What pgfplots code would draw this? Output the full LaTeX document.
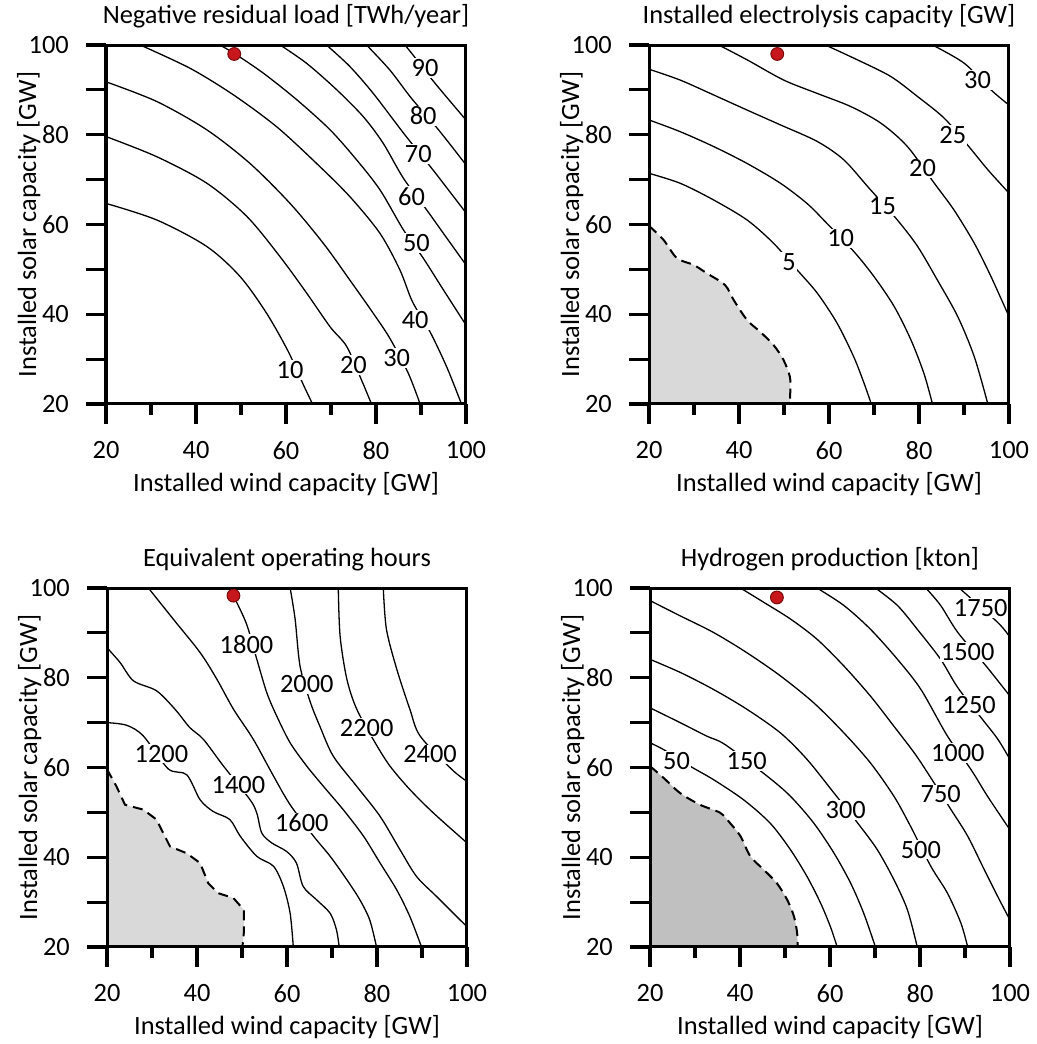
\documentclass[border=0pt]{standalone}
\usepackage{pgfplots}
\pgfplotsset{compat=1.18}
\usepackage{fontspec}
\setmainfont{Carlito}
\definecolor{shadeA}{HTML}{D9D9D9}
\definecolor{shadeB}{HTML}{C0C0C0}
\definecolor{dotred}{HTML}{C8161D}
\definecolor{dotedge}{HTML}{7A0A0A}

\pgfplotsset{
  panel/.style={
    scale only axis, width=180pt, height=179.5pt,
    xmin=20, xmax=100, ymin=20, ymax=100,
    xtick={20,40,...,100}, ytick={20,40,...,100},
    minor ytick={30,50,70,90},
    extra x ticks={30,50,70,90}, extra x tick labels={},
    extra x tick style={major tick length=5.5pt},
    tick pos=left,
    tick align=outside, major tick length=10pt, minor tick length=10pt,
    axis line style={line width=1.5pt},
    tick style={black, line width=1.6pt},
    axis on top,
    xlabel={Installed wind capacity [GW]},
    ylabel={Installed solar capacity [GW]},
    xlabel style={at={(axis description cs:0.5,-0.245)}, anchor=base},
    ylabel style={at={(axis description cs:-0.194,0.5)}, anchor=base},
    title style={at={(axis description cs:0.5,1.061)}, anchor=base, yshift=-6pt},
    xticklabel style={yshift=-4pt},
    yticklabel style={xshift=-4pt},
    /pgf/number format/assume math mode=true,
  },
  cl/.style={black, line width=0.65pt, smooth, no markers},
  bnd/.style={black, line width=1pt, dash pattern=on 5pt off 3pt, smooth, no markers},
  dot/.style={only marks, mark=*, mark size=3.2pt, mark options={fill=dotred, draw=dotedge, line width=0.5pt}},
}
\tikzset{lbl/.style={fill=white, inner sep=0.6pt}}

\begin{document}
\fontsize{13.2}{16}\selectfont
\begin{tikzpicture}
\useasboundingbox (0,0) rectangle (518.5pt,522pt);

% top left
\begin{axis}[panel, at={(53pt,320pt)}, anchor=south west,
  title={Negative residual load [TWh/year]}]
\addplot[cl] coordinates {(20,64.7) (31.3,61.0) (42.4,55.1) (49.8,48.4) (55.7,40.2) (60.5,31.7) (63.9,24.2) (65.9,20)};
\addplot[cl] coordinates {(20,79.6) (31.3,75.1) (42.4,69.2) (51.3,61.8) (58.7,52.8) (64.6,44.7) (69.8,37.2) (73.5,32.8) (76.8,25.3) (79.0,20)};
\addplot[cl] coordinates {(20,91.8) (31.3,87.4) (42.4,81.1) (52.0,73.6) (60.9,64.7) (68.3,55.8) (74.2,47.6) (79.4,40.2) (83.1,34.6) (87.2,26.8) (89.8,20)};
\addplot[cl] coordinates {(27.6,100) (38.7,94.8) (48.3,88.9) (57.9,81.8) (66.8,73.6) (74.2,66.2) (80.9,58.0) (85.3,49.9) (88.1,42.8) (92.0,36.1) (95.7,28.3) (99.0,20)};
\addplot[cl] coordinates {(45.3,100) (48.7,98.0) (55.0,93.7) (62.4,87.8) (69.8,81.1) (75.7,74.4) (80.9,67.7) (86.1,58.8) (90.5,52.5) (95.0,45.4) (100,37.6)};
\addplot[cl] coordinates {(58.7,100) (64.6,95.9) (71.3,90.0) (77.2,84.0) (81.6,78.1) (86.1,70.3) (91.3,63.2) (95.0,58.0) (100,51.0)};
\addplot[cl] coordinates {(69.0,100) (74.2,95.2) (79.4,89.2) (86.4,80.0) (92.4,72.5) (96.1,67.7) (100,62.6)};
\addplot[cl] coordinates {(77.9,100) (83.1,94.4) (87.9,88.1) (93.9,81.1) (100,73.3)};
\addplot[cl] coordinates {(86.4,100) (87.9,98.2) (93.1,91.5) (100,83.3)};
\node[lbl] at (axis cs:60.9,27.6) {10};
\node[lbl] at (axis cs:75.0,28.7) {20};
\node[lbl] at (axis cs:84.6,30.2) {30};
\node[lbl] at (axis cs:88.7,38.7) {40};
\node[lbl] at (axis cs:89.0,55.8) {50};
\node[lbl] at (axis cs:87.9,66.2) {60};
\node[lbl] at (axis cs:89.4,75.7) {70};
\node[lbl] at (axis cs:90.5,84.2) {80};
\node[lbl] at (axis cs:90.9,94.8) {90};
\addplot[dot] coordinates {(48.5,98.0)};
\end{axis}

% top right
\begin{axis}[panel, at={(324.5pt,320pt)}, anchor=south west,
  title={Installed electrolysis capacity [GW]}]
\addplot[fill=shadeA, draw=none, smooth] coordinates {(20,59.7) (23.2,56.6) (26.2,52.5) (29.9,51.0) (32.9,49.1) (36.9,46.5) (38.8,43.2) (41.8,38.7) (44.7,36.1) (47.7,33.1) (49.9,29.8) (51.3,26.1) (51.4,23.1) (51.3,20)} \closedcycle;
\addplot[bnd] coordinates {(20,59.7) (23.2,56.6) (26.2,52.5) (29.9,51.0) (32.9,49.1) (36.9,46.5) (38.8,43.2) (41.8,38.7) (44.7,36.1) (47.7,33.1) (49.9,29.8) (51.3,26.1) (51.4,23.1) (51.3,20)};
\addplot[cl] coordinates {(20,71.4) (26.9,69.2) (34.3,65.5) (41.8,61.0) (47.7,55.8) (52.9,49.9) (57.4,44.7) (61.8,38.0) (65.5,30.5) (67.8,24.6) (69.4,20)};
\addplot[cl] coordinates {(20,83.3) (26.9,80.7) (34.3,77.4) (41.8,73.6) (49.2,69.2) (55.1,64.7) (59.2,60.6) (65.5,54.0) (70.0,48.4) (74.5,41.7) (78.2,34.3) (81.1,26.8) (83.0,20)};
\addplot[cl] coordinates {(20,94.6) (26.9,92.2) (34.3,88.9) (41.8,85.5) (49.2,82.2) (57.4,78.5) (63.3,74.4) (68.9,68.1) (75.2,61.0) (79.7,55.1) (84.1,47.6) (88.6,39.5) (92.3,30.5) (95.3,20)};
\addplot[cl] coordinates {(35.5,100) (41.8,96.7) (49.9,92.2) (57.4,89.2) (64.8,86.3) (71.5,82.6) (77.4,77.4) (83.4,69.2) (87.8,63.2) (92.3,55.8) (96.0,48.4) (100,39.5)};
\addplot[cl] coordinates {(59.2,100) (66.3,96.7) (73.7,93.0) (79.7,88.5) (85.6,83.7) (90.8,77.7) (95.3,72.2) (100,67.0)};
\addplot[cl] coordinates {(83.0,100) (90.1,95.9) (96.0,90.0) (100,86.6)};
\node[lbl] at (axis cs:51.1,51.7) {5};
\node[lbl] at (axis cs:62.6,56.9) {10};
\node[lbl] at (axis cs:71.9,64.0) {15};
\node[lbl] at (axis cs:80.8,72.5) {20};
\node[lbl] at (axis cs:87.5,80.0) {25};
\node[lbl] at (axis cs:93.0,92.2) {30};
\addplot[dot] coordinates {(48.5,98.0)};
\end{axis}

% bottom left
\begin{axis}[panel, at={(53.5pt,48.5pt)}, anchor=south west,
  title={Equivalent operating hours}]
\addplot[fill=shadeA, draw=none] coordinates {(20,59.6) (22.1,55.8) (24.0,51.7) (28.1,50.6) (31.0,48.4) (34.0,42.4) (37.7,40.9) (40.7,38.7) (42.5,34.2) (44.7,32.0) (48.1,30.9) (50.4,28.3) (50.4,23.1) (50.1,20)} \closedcycle;
\addplot[black, line width=1pt, dash pattern=on 5pt off 3pt] coordinates {(20,59.6) (22.1,55.8) (24.0,51.7) (28.1,50.6) (31.0,48.4) (34.0,42.4) (37.7,40.9) (40.7,38.7) (42.5,34.2) (44.7,32.0) (48.1,30.9) (50.4,28.3) (50.4,23.1) (50.1,20)};
\addplot[cl] coordinates {(20,70.0) (24.4,69.4) (28.1,67.0) (33.6,59.7) (37.7,58.4) (40.7,52.8) (43.6,50.2) (47.3,48.4) (49.6,44.7) (53.3,40.2) (57.0,38.0) (59.2,33.5) (60.7,27.5) (61.4,20)};
\addplot[cl] coordinates {(20,86.7) (22.9,83.4) (25.9,79.3) (31.0,77.1) (35.1,73.0) (38.4,68.9) (41.4,66.3) (45.9,60.3) (51.8,52.8) (53.3,49.8) (54.4,45.4) (56.6,43.2) (59.9,41.3) (62.1,38.7) (63.6,33.5) (66.6,30.5) (69.6,27.5) (71.0,23.8) (71.6,20)};
\addplot[cl] coordinates {(29.2,100) (34.7,93.1) (40.7,85.6) (44.4,79.7) (48.1,73.0) (52.5,66.3) (57.0,58.1) (60.7,51.7) (65.9,44.7) (69.6,40.2) (73.3,35.0) (76.2,30.5) (78.4,26.0) (79.9,20)};
\addplot[cl] coordinates {(47.4,100) (48.1,98.3) (51.0,92.0) (53.3,84.1) (55.5,76.7) (57.7,71.5) (60.7,65.5) (64.4,60.3) (68.1,55.8) (72.5,50.6) (77.0,44.7) (80.7,38.7) (84.4,32.7) (87.3,26.8) (89.9,20)};
\addplot[cl] coordinates {(60.7,100) (61.8,93.1) (62.9,82.6) (65.1,74.8) (67.3,69.2) (70.3,62.5) (75.5,55.8) (80.7,49.1) (85.1,41.7) (88.8,35.7) (93.3,31.2) (100,24.5)};
\addplot[cl] coordinates {(71.4,100) (71.8,89.3) (73.3,79.7) (75.5,73.0) (79.6,65.5) (82.9,60.3) (87.3,55.1) (92.5,49.9) (100,43.2)};
\addplot[cl] coordinates {(81.4,100) (82.1,90.8) (84.4,81.9) (87.3,73.0) (89.6,67.0) (96.6,59.6) (100,56.9)};
\node[lbl] at (axis cs:32.1,63.1) {1200};
\node[lbl] at (axis cs:49.2,56.2) {1400};
\node[lbl] at (axis cs:63.3,47.6) {1600};
\node[lbl] at (axis cs:51.0,87.5) {1800};
\node[lbl] at (axis cs:64.4,78.5) {2000};
\node[lbl] at (axis cs:77.7,68.9) {2200};
\node[lbl] at (axis cs:91.8,62.9) {2400};
\addplot[dot] coordinates {(48.1,98.3)};
\end{axis}

% bottom right
\begin{axis}[panel, at={(325pt,48.5pt)}, anchor=south west,
  title={Hydrogen production [kton]}]
\addplot[fill=shadeB, draw=none, smooth] coordinates {(20,60.3) (23.0,57.7) (26.7,54.3) (31.1,51.7) (35.6,49.9) (37.8,47.6) (40.1,44.7) (42.3,40.2) (45.3,37.2) (48.2,34.2) (50.5,30.5) (52.0,26.8) (52.7,23.1) (52.8,20)} \closedcycle;
\addplot[bnd] coordinates {(20,60.3) (23.0,57.7) (26.7,54.3) (31.1,51.7) (35.6,49.9) (37.8,47.6) (40.1,44.7) (42.3,40.2) (45.3,37.2) (48.2,34.2) (50.5,30.5) (52.0,26.8) (52.7,23.1) (52.8,20)};
\addplot[cl] coordinates {(20,65.5) (23.0,64.0) (28.9,60.3) (34.1,57.3) (40.8,52.8) (46.7,47.6) (51.2,41.7) (54.9,35.7) (57.9,29.8) (60.1,24.5) (61.6,20)};
\addplot[cl] coordinates {(20,73.3) (26.7,70.0) (32.6,67.0) (36.7,65.1) (46.0,58.1) (51.2,53.6) (56.4,47.6) (60.9,40.9) (64.6,34.2) (67.5,27.5) (70.1,20)};
\addplot[cl] coordinates {(20,84.1) (26.7,81.2) (34.1,77.4) (41.5,73.0) (49.0,67.7) (54.9,61.8) (60.9,54.3) (66.4,47.3) (70.5,41.7) (74.2,35.0) (77.2,28.3) (79.4,20)};
\addplot[cl] coordinates {(20,97.2) (26.7,93.8) (34.1,90.1) (41.5,85.6) (49.0,80.4) (56.4,74.4) (63.1,67.7) (69.0,61.0) (74.2,53.6) (77.9,46.9) (82.4,38.0) (86.1,32.0) (89.1,25.3) (90.6,20)};
\addplot[cl] coordinates {(40.1,100) (45.3,96.8) (51.2,93.1) (57.1,88.6) (63.1,82.6) (69.0,75.9) (74.2,69.2) (78.7,63.3) (81.7,58.8) (86.9,50.6) (90.6,44.7) (94.3,37.2) (97.3,31.2) (100,26.0)};
\addplot[cl] coordinates {(57.1,100) (63.1,96.1) (69.0,90.8) (75.0,84.1) (80.2,77.4) (86.1,67.0) (91.3,59.6) (95.0,53.6) (100,46.1)};
\addplot[cl] coordinates {(70.1,100) (75.0,96.1) (79.4,90.8) (84.6,84.1) (88.4,77.8) (93.9,70.7) (97.3,66.3) (100,61.8)};
\addplot[cl] coordinates {(81.3,100) (84.6,96.1) (88.4,90.1) (94.7,82.6) (100,75.9)};
\addplot[cl] coordinates {(88.7,100) (97.3,92.3) (100,89.0)};
\node[lbl] at (axis cs:25.9,61.4) {50};
\node[lbl] at (axis cs:41.5,61.4) {150};
\node[lbl] at (axis cs:63.5,50.6) {300};
\node[lbl] at (axis cs:80.2,41.7) {500};
\node[lbl] at (axis cs:84.6,54.0) {750};
\node[lbl] at (axis cs:88.4,63.3) {1000};
\node[lbl] at (axis cs:90.9,73.9) {1250};
\node[lbl] at (axis cs:90.6,85.8) {1500};
\node[lbl] at (axis cs:93.5,95.5) {1750};
\addplot[dot] coordinates {(48.2,97.9)};
\end{axis}
\end{tikzpicture}
\end{document}
